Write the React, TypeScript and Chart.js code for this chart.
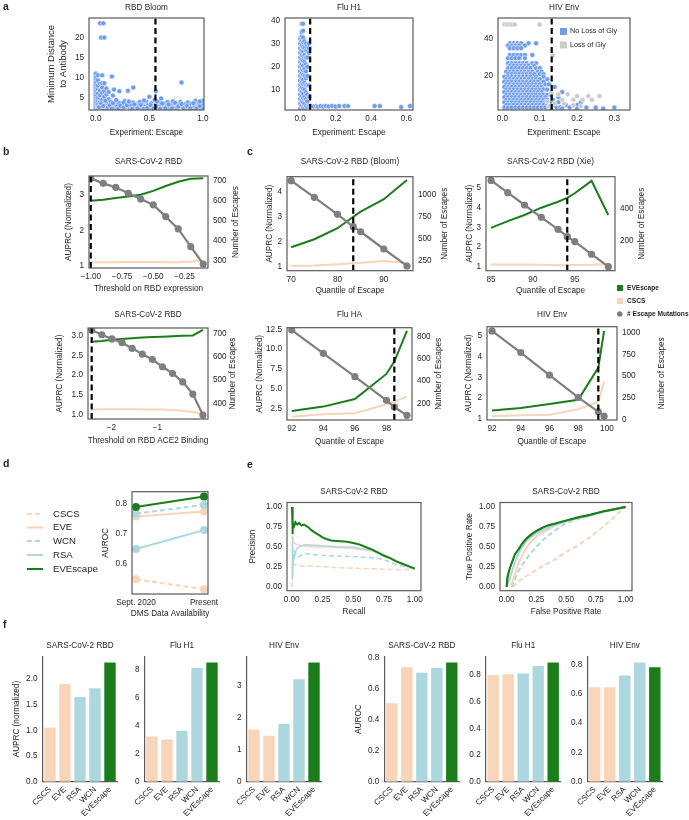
import React, { useEffect, useRef } from "react";
import { Chart, registerables } from "chart.js";

Chart.register(...registerables);

const W = 689;
const H = 820;
const FONT = "'Liberation Sans', Arial, Helvetica, sans-serif";
const TICK = 8.2;
const INK = "#262626";
const FRAME = "#5a5a5a";
const GREEN = "#1a7d1a";
const PEACH = "#f8d4b8";
const LBLUE = "#acd7df";
const GRAY = "#7f7f7f";
const SCAT = "#6f9ceb";
const LGRAY = "#cbcbcb";

// ---------------- data: panel a ----------------
const rbdBloomPts: [number, number][] = [
  [0.0, 2.1], [0.0, 2.6], [0.0, 3.1], [0.0, 3.6], [0.0, 4.1], [0.0, 4.6], [0.0, 5.2], [0.0, 5.8], [0.0, 6.4], [0.0, 7.0], [0.0, 7.6], [0.0, 8.3], [0.0, 9.0], [0.0, 9.7], [0.0, 10.4], [0.0, 11.0],
  [0.02, 2.3], [0.02, 2.9], [0.02, 3.5], [0.02, 4.3], [0.02, 5.0], [0.02, 6.0], [0.02, 7.2], [0.02, 8.0], [0.02, 9.3], [0.02, 10.6],
  [0.04, 2.1], [0.04, 3.0], [0.04, 3.8], [0.04, 4.8], [0.04, 5.6], [0.04, 6.8], [0.04, 8.5], [0.04, 23.6], [0.07, 23.6], [0.05, 20.0], [0.08, 20.0],
  [0.06, 2.5], [0.06, 3.3], [0.06, 4.4], [0.06, 6.2], [0.06, 7.5], [0.06, 8.6], [0.06, 10.6],
  [0.08, 2.2], [0.08, 3.6], [0.08, 5.2], [0.08, 6.6], [0.08, 8.6],
  [0.1, 2.6], [0.1, 3.2], [0.1, 4.0], [0.1, 5.8], [0.1, 7.3],
  [0.12, 2.2], [0.12, 3.4], [0.12, 4.6], [0.12, 6.4],
  [0.14, 2.8], [0.14, 3.9], [0.15, 10.3], [0.16, 5.5], [0.17, 7.0],
  [0.18, 2.4], [0.18, 3.3], [0.2, 4.1], [0.2, 2.9], [0.22, 3.6], [0.22, 6.6], [0.24, 2.3], [0.25, 3.2], [0.27, 4.2], [0.28, 2.7], [0.3, 3.5], [0.3, 6.7],
  [0.32, 2.4], [0.33, 3.0], [0.35, 7.5], [0.35, 3.8], [0.37, 2.6], [0.38, 3.3], [0.4, 2.9], [0.41, 3.9], [0.43, 2.3], [0.44, 3.4], [0.46, 2.8], [0.47, 4.0],
  [0.49, 3.1], [0.5, 5.2], [0.5, 2.5], [0.52, 3.6], [0.53, 2.9], [0.55, 4.4], [0.56, 6.6], [0.56, 3.3], [0.58, 2.6], [0.59, 3.9], [0.61, 4.8], [0.61, 3.0],
  [0.63, 2.3], [0.64, 3.5], [0.66, 2.8], [0.67, 3.9], [0.69, 2.5], [0.7, 3.2], [0.72, 4.1], [0.73, 2.6], [0.75, 3.4], [0.76, 2.3], [0.78, 3.0], [0.79, 3.9],
  [0.8, 8.8], [0.81, 2.6], [0.83, 3.3], [0.84, 2.2], [0.86, 3.8], [0.87, 2.8], [0.89, 3.4], [0.9, 2.3], [0.92, 3.0], [0.93, 4.2], [0.95, 2.6], [0.96, 3.5],
  [0.98, 2.2], [0.99, 3.0], [0.99, 3.9], [1.0, 2.5], [1.0, 3.3], [1.0, 4.2],
  [0.03, 2.6], [0.05, 3.6], [0.07, 2.9], [0.09, 4.2], [0.11, 2.4], [0.13, 3.0], [0.15, 2.2], [0.16, 3.6], [0.19, 4.4], [0.21, 2.3], [0.23, 3.0], [0.26, 2.5],
  [0.26, 3.8], [0.29, 3.1], [0.31, 4.0], [0.34, 2.2], [0.36, 3.3], [0.39, 2.3], [0.42, 3.2], [0.45, 2.2], [0.45, 4.3], [0.48, 2.4], [0.51, 3.1], [0.54, 2.3],
  [0.57, 4.0], [0.6, 2.2], [0.62, 3.5], [0.65, 2.3], [0.68, 3.3], [0.71, 2.3], [0.74, 3.7], [0.77, 2.8], [0.8, 3.4], [0.82, 2.3], [0.85, 2.9], [0.88, 2.3],
  [0.91, 3.6], [0.94, 2.3], [0.97, 2.9], [0.97, 4.0],
];
const rbdBloomThreshold = 0.557;

const fluH1Cols: [number, number[]][] = [
  [0.0, [2, 4, 6, 8, 10, 12, 14, 16, 18, 20, 22, 24, 26, 28, 30, 32]],
  [0.008, [3, 5, 7, 9, 11, 13, 15, 17, 19, 21, 23, 25, 27, 29, 31, 33, 35, 38.5]],
  [0.016, [2.5, 4.5, 6.5, 8.5, 10.5, 12.5, 14.5, 16.5, 18.5, 20.5, 22.5, 24.5, 26.5, 28.5, 30.5, 32.5, 35.5, 38.5]],
  [0.024, [2, 4, 7, 10, 13, 16, 19, 22, 25, 28, 31]],
  [0.032, [3, 6, 9, 12, 15, 18, 21, 24, 27, 30]],
  [0.04, [2.5, 5, 8, 12, 16, 20, 24, 27, 29]],
  [0.05, [3, 7, 12, 26, 28, 30]],
];
const fluH1Tail: [number, number][] = [
  [0.06, 3], [0.075, 2.8], [0.09, 3], [0.1, 2.7], [0.115, 3], [0.13, 2.8], [0.145, 3], [0.16, 2.9], [0.18, 3], [0.2, 2.8],
  [0.22, 3], [0.25, 3], [0.27, 3], [0.42, 3], [0.45, 3], [0.57, 2.6], [0.62, 3],
];
const fluH1Threshold = 0.056;

const hivRows: [number, number[]][] = [
  [37.8, [0.02, 0.03, 0.04, 0.05, 0.07, 0.09]],
  [36.5, [0.015, 0.025, 0.035, 0.045, 0.06]],
  [35.1, [0.02, 0.03, 0.04, 0.05]],
  [31.4, [0.02, 0.03, 0.04, 0.05, 0.06, 0.08]],
  [29.6, [0.015, 0.025, 0.035, 0.045, 0.06]],
  [26.9, [0.015, 0.025, 0.035, 0.045, 0.055, 0.065, 0.08, 0.09]],
  [25.5, [0.02, 0.03, 0.04, 0.05, 0.06, 0.07, 0.085]],
  [24.2, [0.015, 0.025, 0.035, 0.045, 0.055, 0.065, 0.075, 0.09, 0.1]],
  [22.3, [0.01, 0.02, 0.03, 0.04, 0.05, 0.06, 0.07, 0.08, 0.095, 0.105]],
  [21.0, [0.015, 0.025, 0.035, 0.045, 0.055, 0.065, 0.075, 0.085, 0.1, 0.11]],
  [19.6, [0.005, 0.015, 0.025, 0.035, 0.045, 0.055, 0.065, 0.075, 0.09, 0.11]],
  [18.2, [0.01, 0.02, 0.03, 0.04, 0.05, 0.06, 0.07, 0.08, 0.09, 0.1, 0.12]],
  [16.8, [0.005, 0.015, 0.025, 0.035, 0.045, 0.055, 0.065, 0.075, 0.085, 0.095, 0.11]],
  [15.4, [0.01, 0.02, 0.03, 0.04, 0.05, 0.06, 0.07, 0.08, 0.09, 0.1, 0.115, 0.125]],
  [14.0, [0.005, 0.015, 0.025, 0.035, 0.045, 0.055, 0.065, 0.075, 0.085, 0.095, 0.105, 0.14]],
  [12.6, [0.01, 0.02, 0.03, 0.04, 0.05, 0.06, 0.07, 0.08, 0.09, 0.1, 0.11, 0.12]],
  [11.2, [0.005, 0.015, 0.025, 0.035, 0.045, 0.055, 0.065, 0.075, 0.085, 0.095, 0.105, 0.16]],
  [9.8, [0.01, 0.02, 0.03, 0.04, 0.05, 0.06, 0.07, 0.08, 0.09, 0.1, 0.11, 0.12, 0.13]],
  [8.4, [0.005, 0.015, 0.025, 0.035, 0.045, 0.055, 0.065, 0.075, 0.085, 0.095, 0.105, 0.115, 0.15]],
  [7.0, [0.01, 0.02, 0.03, 0.04, 0.05, 0.06, 0.07, 0.08, 0.09, 0.1, 0.11, 0.12, 0.135]],
  [5.6, [0.005, 0.015, 0.025, 0.035, 0.045, 0.055, 0.065, 0.075, 0.085, 0.095, 0.105, 0.115, 0.13, 0.15, 0.21]],
  [4.2, [0.01, 0.02, 0.03, 0.04, 0.05, 0.06, 0.07, 0.08, 0.09, 0.1, 0.11, 0.12, 0.14, 0.17, 0.2]],
  [2.8, [0.005, 0.015, 0.025, 0.035, 0.045, 0.055, 0.065, 0.075, 0.085, 0.095, 0.105, 0.115, 0.125, 0.145, 0.155, 0.18, 0.225, 0.25, 0.3]],
  [2.2, [0.13, 0.16, 0.2, 0.27]],
];
const hivLossPts: [number, number][] = [
  [0.005, 48], [0.012, 48], [0.019, 48], [0.026, 48], [0.033, 48], [0.1, 48], [0.135, 31], [0.13, 11], [0.15, 10], [0.16, 7],
  [0.175, 10], [0.19, 7], [0.2, 9], [0.215, 7], [0.23, 9], [0.24, 7], [0.14, 5], [0.165, 5], [0.19, 4], [0.21, 3.5], [0.12, 6], [0.125, 3.5], [0.26, 9],
];
const hivThreshold = 0.132;

// ---------------- data: panel b ----------------
const exprThresh = [-1.0, -0.9, -0.8, -0.7, -0.6, -0.5, -0.4, -0.3, -0.2, -0.1];
const exprEscapes = [713, 688, 668, 638, 609, 580, 521, 459, 370, 283];
const exprEVEscape = [2.83, 2.86, 2.91, 2.95, 3.0, 3.11, 3.25, 3.37, 3.45, 3.47];
const exprCSCS = [1.1, 1.1, 1.1, 1.11, 1.11, 1.11, 1.1, 1.1, 1.12, 1.15];
const exprCut = -1.0;

const aceThresh = [-2.43, -2.21, -1.99, -1.77, -1.55, -1.33, -1.11, -0.89, -0.67, -0.45, -0.23, -0.01];
const aceEscapes = [714, 694, 676, 660, 636, 611, 588, 557, 528, 492, 440, 350];
const aceEVEscape = [2.85, 2.87, 2.9, 2.92, 2.94, 2.96, 2.97, 2.98, 2.99, 3.0, 3.01, 3.15];
const aceCSCS = [1.12, 1.13, 1.13, 1.13, 1.13, 1.12, 1.12, 1.12, 1.11, 1.09, 1.06, 1.0];
const aceCut = -2.43;

// ---------------- data: panel c ----------------
const bloomQ = [70, 75, 80, 83.4, 85, 90, 95];
const bloomEscapes = [1153, 966, 775, 636, 579, 385, 194];
const bloomEVEscape = [1.78, 2.1, 2.54, 3.0, 3.2, 3.7, 4.47];
const bloomCSCS = [1.03, 1.05, 1.1, 1.14, 1.16, 1.23, 1.15];
const bloomCut = 83.4;

const xieQ = [85, 87, 89, 91, 93, 94.1, 95, 97, 99];
const xieEscapes = [579, 502, 425, 348, 273, 227, 196, 117, 39];
const xieEVEscape = [2.97, 3.31, 3.62, 3.99, 4.29, 4.49, 4.72, 5.35, 3.62];
const xieCSCS = [1.12, 1.12, 1.11, 1.1, 1.07, 1.08, 1.09, 1.1, 1.15];
const xieCut = 94.1;

const fluQ = [92, 94, 96, 98, 98.5, 99.3];
const fluEscapes = [860, 650, 440, 227, 167, 92];
const fluEVEscape = [2.25, 2.8, 3.76, 6.9, 8.44, 12.3];
const fluCSCS = [1.53, 1.83, 1.96, 3.1, 3.42, 4.05];
const fluCut = 98.5;

const hivQ = [92, 94, 96, 98, 99.4, 99.8];
const hivEscapes = [1020, 770, 510, 252, 86, 36];
const hivEVEscape = [1.38, 1.5, 1.7, 1.9, 3.47, 5.25];
const hivCSCS = [1.1, 1.15, 1.18, 1.45, 1.8, 2.8];
const hivCut = 99.4;

// ---------------- data: panel d ----------------
const dmsLabels = ["Sept. 2020", "Present"];
const dmsCSCS = [0.549, 0.516];
const dmsEVE = [0.758, 0.775];
const dmsWCN = [0.768, 0.797];
const dmsRSA = [0.65, 0.713];
const dmsEVEscape = [0.79, 0.825];

// ---------------- data: panel e ----------------
const prEVEscape: [number, number][] = [
  [0.003, 1.0], [0.006, 0.66], [0.01, 0.8], [0.02, 0.76], [0.03, 0.81], [0.045, 0.78], [0.06, 0.8], [0.08, 0.77], [0.1, 0.78], [0.12, 0.76],
  [0.14, 0.74], [0.16, 0.71], [0.19, 0.68], [0.22, 0.65], [0.25, 0.62], [0.28, 0.6], [0.32, 0.58], [0.36, 0.575], [0.4, 0.57], [0.45, 0.565],
  [0.5, 0.55], [0.55, 0.53], [0.6, 0.5], [0.65, 0.47], [0.7, 0.43], [0.75, 0.39], [0.8, 0.36], [0.85, 0.32], [0.9, 0.29], [0.95, 0.26], [1.0, 0.23],
];
const prEVE: [number, number][] = [
  [0.003, 0.64], [0.01, 0.57], [0.02, 0.55], [0.04, 0.53], [0.07, 0.52], [0.1, 0.51], [0.15, 0.51], [0.2, 0.5], [0.3, 0.5], [0.4, 0.49],
  [0.5, 0.48], [0.55, 0.47], [0.6, 0.46], [0.65, 0.45], [0.7, 0.43], [0.75, 0.39], [0.8, 0.35], [0.85, 0.31], [0.9, 0.28], [0.95, 0.25], [1.0, 0.23],
];
const prRSA: [number, number][] = [
  [0.003, 0.1], [0.006, 0.62], [0.012, 0.3], [0.025, 0.4], [0.04, 0.47], [0.06, 0.5], [0.09, 0.52], [0.12, 0.53], [0.16, 0.52], [0.2, 0.52],
  [0.3, 0.51], [0.4, 0.5], [0.5, 0.5], [0.55, 0.48], [0.6, 0.47], [0.65, 0.46], [0.7, 0.44], [0.75, 0.4], [0.8, 0.36], [0.85, 0.32], [0.9, 0.28], [0.95, 0.25], [1.0, 0.23],
];
const prWCN: [number, number][] = [
  [0.003, 0.25], [0.01, 0.2], [0.02, 0.45], [0.035, 0.4], [0.05, 0.37], [0.07, 0.39], [0.1, 0.42], [0.15, 0.41], [0.2, 0.4], [0.3, 0.39],
  [0.4, 0.385], [0.5, 0.38], [0.6, 0.37], [0.7, 0.36], [0.75, 0.34], [0.8, 0.31], [0.85, 0.28], [0.9, 0.26], [0.95, 0.24], [1.0, 0.23],
];
const prCSCS: [number, number][] = [
  [0.003, 0.0], [0.008, 0.3], [0.02, 0.28], [0.05, 0.27], [0.1, 0.26], [0.2, 0.26], [0.3, 0.25], [0.4, 0.24], [0.5, 0.235], [0.6, 0.23],
  [0.7, 0.225], [0.8, 0.22], [0.9, 0.22], [1.0, 0.22],
];
const rocEVEscape: [number, number][] = [
  [0, 0], [0.005, 0.1], [0.012, 0.16], [0.03, 0.25], [0.05, 0.33], [0.07, 0.41], [0.1, 0.47], [0.13, 0.54], [0.17, 0.61], [0.21, 0.66],
  [0.25, 0.7], [0.3, 0.74], [0.35, 0.77], [0.4, 0.79], [0.5, 0.83], [0.6, 0.87], [0.7, 0.9], [0.8, 0.94], [0.9, 0.97], [1, 1],
];
const rocRSA: [number, number][] = [
  [0, 0], [0.02, 0.08], [0.05, 0.22], [0.08, 0.35], [0.12, 0.48], [0.16, 0.56], [0.2, 0.62], [0.25, 0.67], [0.3, 0.71], [0.4, 0.77],
  [0.5, 0.82], [0.6, 0.86], [0.7, 0.9], [0.8, 0.94], [0.9, 0.97], [1, 1],
];
const rocEVE: [number, number][] = [
  [0.03, 0.0], [0.06, 0.12], [0.1, 0.3], [0.15, 0.45], [0.2, 0.56], [0.25, 0.63], [0.3, 0.68], [0.4, 0.76], [0.5, 0.82], [0.6, 0.86],
  [0.7, 0.9], [0.8, 0.94], [0.9, 0.97], [1, 1],
];
const rocWCN: [number, number][] = [
  [0.04, 0.0], [0.07, 0.1], [0.1, 0.2], [0.15, 0.32], [0.2, 0.42], [0.25, 0.5], [0.3, 0.58], [0.35, 0.64], [0.4, 0.7], [0.45, 0.75],
  [0.5, 0.8], [0.6, 0.85], [0.7, 0.89], [0.8, 0.93], [0.9, 0.97], [1, 1],
];
const rocCSCS: [number, number][] = [
  [0.05, 0.0], [0.1, 0.07], [0.2, 0.17], [0.3, 0.26], [0.4, 0.34], [0.5, 0.44], [0.6, 0.52], [0.7, 0.62], [0.75, 0.68], [0.8, 0.74], [0.9, 0.87], [1, 1],
];

// ---------------- data: panel f ----------------
const fModels = ["CSCS", "EVE", "RSA", "WCN", "EVEscape"];
const fColors = [PEACH, PEACH, LBLUE, LBLUE, GREEN];
const fAuprcSars = [1.05, 1.9, 1.65, 1.82, 2.32];
const fAuprcFlu = [3.25, 3.03, 3.65, 8.15, 8.55];
const fAuprcHiv = [1.63, 1.43, 1.8, 3.2, 3.72];
const fAurocSars = [0.505, 0.737, 0.702, 0.732, 0.768];
const fAurocFlu = [0.8, 0.805, 0.81, 0.866, 0.893];
const fAurocHiv = [0.646, 0.646, 0.726, 0.815, 0.782];

// ---------------- helpers ----------------
type Box = { L: number; T: number; R: number; B: number };
type TextItem = { text: string; x: number; y: number; size?: number; bold?: boolean; align?: CanvasTextAlign; rot?: boolean };
type LegItem = { label: string; kind: "square" | "circle" | "line"; color: string; dash?: number[]; x: number; y: number; tx: number; size: number; sw?: number; bold?: boolean };

const AX = 30;

function fmtNum(v: number, dec: number) {
  return v.toFixed(dec).replace("-", "\u2212");
}

function fixSize(size: number) {
  return (s: any) => {
    if (s.isHorizontal()) s.height = size;
    else s.width = size;
    s.paddingLeft = 0;
    s.paddingRight = 0;
    s.paddingTop = 0;
    s.paddingBottom = 0;
  };
}

function linAxis(pos: string, min: number, max: number, ticks: number[], dec: number, labels?: string[], border = false) {
  return {
    type: "linear",
    position: pos,
    min,
    max,
    bounds: "data",
    grid: { display: false, drawTicks: false },
    border: { display: border, color: FRAME, width: 1.2 },
    ticks: {
      font: { family: FONT, size: TICK },
      color: INK,
      padding: pos === "bottom" ? 4 : 5,
      autoSkip: false,
      maxRotation: 0,
      minRotation: 0,
      callback: (v: any, i: number) => (labels ? labels[i] : fmtNum(Number(v), dec)),
    },
    afterBuildTicks: (s: any) => {
      s.ticks = ticks.map((v) => ({ value: v }));
    },
    afterFit: fixSize(AX),
  };
}

function opts(box: Box, hasRight: boolean, scales: any, hb = AX) {
  return {
    responsive: false,
    maintainAspectRatio: false,
    animation: false,
    devicePixelRatio: 1,
    events: [],
    layout: { padding: { left: box.L - AX, top: box.T, right: W - box.R - (hasRight ? AX : 0), bottom: H - box.B - hb } },
    plugins: { legend: { display: false }, tooltip: { enabled: false }, title: { display: false } },
    scales,
  };
}

function overlay(texts: TextItem[], legs: LegItem[] = [], frame = true) {
  return {
    id: "overlay",
    afterDatasetsDraw(chart: any) {
      if (!frame) return;
      const { ctx, chartArea: a } = chart;
      ctx.save();
      ctx.strokeStyle = FRAME;
      ctx.lineWidth = 1.2;
      ctx.strokeRect(a.left, a.top, a.right - a.left, a.bottom - a.top);
      ctx.restore();
    },
    afterDraw(chart: any) {
      const ctx = chart.ctx;
      for (const t of texts) {
        ctx.save();
        ctx.font = `${t.bold ? "bold " : ""}${t.size ?? TICK}px ${FONT}`;
        ctx.fillStyle = INK;
        ctx.textAlign = t.align ?? "center";
        ctx.textBaseline = "middle";
        ctx.translate(t.x, t.y);
        if (t.rot) ctx.rotate(-Math.PI / 2);
        ctx.fillText(t.text, 0, 0);
        ctx.restore();
      }
      for (const l of legs) {
        ctx.save();
        ctx.fillStyle = l.color;
        ctx.strokeStyle = l.color;
        const s = l.sw ?? 6;
        if (l.kind === "square") ctx.fillRect(l.x, l.y - s / 2, s, s);
        else if (l.kind === "circle") {
          ctx.beginPath();
          ctx.arc(l.x + s / 2, l.y, s / 2, 0, Math.PI * 2);
          ctx.fill();
        } else {
          ctx.lineWidth = 2;
          ctx.setLineDash(l.dash ?? []);
          ctx.beginPath();
          ctx.moveTo(l.x, l.y);
          ctx.lineTo(l.x + s, l.y);
          ctx.stroke();
        }
        ctx.setLineDash([]);
        ctx.font = `${l.bold ? "bold " : ""}${l.size}px ${FONT}`;
        ctx.fillStyle = INK;
        ctx.textAlign = "left";
        ctx.textBaseline = "middle";
        ctx.fillText(l.label, l.tx, l.y);
        ctx.restore();
      }
    },
  };
}

const pts = (a: [number, number][]) => a.map(([x, y]) => ({ x, y }));
const zipXY = (xs: number[], ys: number[]) => xs.map((x, i) => ({ x, y: ys[i] }));

function vline(x: number, y0: number, y1: number, axis = "y") {
  return { data: [{ x, y: y0 }, { x, y: y1 }], showLine: true, borderColor: "#000", borderWidth: 2.2, borderDash: [6, 3.5], pointRadius: 0, yAxisID: axis, order: 0 };
}

// ---------------- panel a ----------------
function scatterCfg(p: { box: Box; title: string; xr: [number, number]; yr: [number, number]; xt: number[]; yt: number[]; thr: number; sets: any[]; texts?: TextItem[]; legs?: LegItem[] }) {
  const { box } = p;
  const cx = (box.L + box.R) / 2;
  const texts: TextItem[] = [
    { text: p.title, x: cx, y: 7.5 },
    { text: "Experiment: Escape", x: cx, y: 133 },
    ...(p.texts || []),
  ];
  return {
    type: "scatter",
    data: { datasets: [vline(p.thr, p.yr[0], p.yr[1]), ...p.sets] },
    options: opts(box, false, {
      x: linAxis("bottom", p.xr[0], p.xr[1], p.xt, 1),
      y: linAxis("left", p.yr[0], p.yr[1], p.yt, 0),
    }),
    plugins: [overlay(texts, p.legs || [])],
  };
}

const scatStyle = { pointRadius: 2.5, pointBackgroundColor: SCAT, pointBorderColor: "#ffffff", pointBorderWidth: 0.5, showLine: false };

const makeA1 = () =>
  scatterCfg({
    box: { L: 89, T: 18, R: 204, B: 110 },
    title: "RBD Bloom",
    xr: [-0.063, 1.01],
    yr: [1.9, 24.9],
    xt: [0, 0.5, 1.0],
    yt: [5, 10, 15, 20],
    thr: rbdBloomThreshold,
    sets: [{ data: pts(rbdBloomPts), ...scatStyle, order: 2 }],
    texts: [
      { text: "Minimum Distance", x: 51.5, y: 64, size: 9.5, rot: true },
      { text: "to Antibody", x: 63, y: 64, size: 9.5, rot: true },
      { text: "a", x: 3, y: 7, size: 10.5, bold: true, align: "left" },
      { text: "b", x: 3, y: 152, size: 10.5, bold: true, align: "left" },
      { text: "c", x: 247, y: 152, size: 10.5, bold: true, align: "left" },
      { text: "d", x: 3, y: 464, size: 10.5, bold: true, align: "left" },
      { text: "e", x: 247, y: 465, size: 10.5, bold: true, align: "left" },
      { text: "f", x: 3, y: 625, size: 10.5, bold: true, align: "left" },
    ],
  });

const makeA2 = () =>
  scatterCfg({
    box: { L: 285, T: 18, R: 413, B: 110 },
    title: "Flu H1",
    xr: [-0.086, 0.637],
    yr: [1.3, 41],
    xt: [0, 0.2, 0.4, 0.6],
    yt: [10, 20, 30, 40],
    thr: fluH1Threshold,
    sets: [
      {
        data: [...fluH1Cols.flatMap(([x, ys]) => ys.map((y) => ({ x, y }))), ...pts(fluH1Tail)],
        ...scatStyle,
        order: 2,
      },
    ],
  });

const makeA3 = () =>
  scatterCfg({
    box: { L: 498, T: 18, R: 630, B: 110 },
    title: "HIV Env",
    xr: [-0.012, 0.342],
    yr: [1.45, 51.5],
    xt: [0, 0.1, 0.2, 0.3],
    yt: [20, 40],
    thr: hivThreshold,
    sets: [
      { data: hivRows.flatMap(([y, xs]) => xs.map((x) => ({ x, y }))), ...scatStyle, order: 2 },
      { data: pts(hivLossPts), ...scatStyle, pointBackgroundColor: LGRAY, order: 1 },
    ],
    legs: [
      { label: "No Loss of Gly", kind: "square", color: SCAT, x: 560, y: 31.5, tx: 570, size: 7.2, sw: 7 },
      { label: "Loss of Gly", kind: "square", color: LGRAY, x: 560, y: 45, tx: 570, size: 7.2, sw: 7 },
    ],
  });

// ---------------- panels b & c ----------------
function dualCfg(p: {
  box: Box; x: number[]; green: number[]; cscs: number[]; esc: number[]; thr: number;
  xr: [number, number]; xt: number[]; xdec: number;
  yl: [number, number]; ylt: number[]; yldec: number;
  yr: [number, number]; yrt: number[];
  title: string; xlabel: string; titleY: number; yLabX: number; y2LabX: number; xLabY: number; legs?: LegItem[];
}) {
  const { box } = p;
  const cx = (box.L + box.R) / 2;
  const cy = (box.T + box.B) / 2;
  const texts: TextItem[] = [
    { text: p.title, x: cx, y: p.titleY },
    { text: p.xlabel, x: cx, y: p.xLabY },
    { text: "AUPRC (Normalized)", x: p.yLabX, y: cy, rot: true },
    { text: "Number of Escapes", x: p.y2LabX, y: cy, rot: true },
  ];
  return {
    type: "scatter",
    data: {
      datasets: [
        vline(p.thr, p.yl[0], p.yl[1]),
        { data: zipXY(p.x, p.esc), showLine: true, borderColor: GRAY, borderWidth: 2.2, pointRadius: 3.6, pointBackgroundColor: GRAY, pointBorderWidth: 0, yAxisID: "y2", order: 1 },
        { data: zipXY(p.x, p.green), showLine: true, borderColor: GREEN, borderWidth: 2, pointRadius: 0, yAxisID: "y", order: 2 },
        { data: zipXY(p.x, p.cscs), showLine: true, borderColor: PEACH, borderWidth: 2, pointRadius: 0, yAxisID: "y", order: 3 },
      ],
    },
    options: opts(box, true, {
      x: linAxis("bottom", p.xr[0], p.xr[1], p.xt, p.xdec),
      y: linAxis("left", p.yl[0], p.yl[1], p.ylt, p.yldec),
      y2: linAxis("right", p.yr[0], p.yr[1], p.yrt, 0),
    }),
    plugins: [overlay(texts, p.legs || [])],
  };
}

const makeB1 = () =>
  dualCfg({
    box: { L: 89, T: 176, R: 208, B: 268 }, x: exprThresh, green: exprEVEscape, cscs: exprCSCS, esc: exprEscapes, thr: exprCut,
    xr: [-1.014, -0.062], xt: [-1, -0.75, -0.5, -0.25], xdec: 2,
    yl: [0.94, 3.53], ylt: [1, 2, 3], yldec: 0, yr: [263, 725], yrt: [300, 400, 500, 600, 700],
    title: "SARS-CoV-2 RBD", xlabel: "Threshold on RBD expression", titleY: 162, yLabX: 68.3, y2LabX: 236, xLabY: 289,
  });

const makeB2 = () =>
  dualCfg({
    box: { L: 88, T: 328, R: 208, B: 419 }, x: aceThresh, green: aceEVEscape, cscs: aceCSCS, esc: aceEscapes, thr: aceCut,
    xr: [-2.51, 0.1], xt: [-2, -1], xdec: 0,
    yl: [0.88, 3.2], ylt: [1, 1.5, 2, 2.5, 3], yldec: 1, yr: [333, 723], yrt: [400, 500, 600, 700],
    title: "SARS-CoV-2 RBD", xlabel: "Threshold on RBD ACE2 Binding", titleY: 315, yLabX: 59.3, y2LabX: 233, xLabY: 441,
  });

const makeC1 = () =>
  dualCfg({
    box: { L: 287, T: 176.7, R: 413, B: 270.7 }, x: bloomQ, green: bloomEVEscape, cscs: bloomCSCS, esc: bloomEscapes, thr: bloomCut,
    xr: [69.1, 96.3], xt: [70, 80, 90], xdec: 0,
    yl: [0.84, 4.6], ylt: [1, 2, 3, 4], yldec: 0, yr: [141, 1198], yrt: [250, 500, 750, 1000],
    title: "SARS-CoV-2 RBD (Bloom)", xlabel: "Quantile of Escape", titleY: 162, yLabX: 269.3, y2LabX: 445, xLabY: 291,
  });

const makeC2 = () =>
  dualCfg({
    box: { L: 486, T: 176.7, R: 615, B: 270.7 }, x: xieQ, green: xieEVEscape, cscs: xieCSCS, esc: xieEscapes, thr: xieCut,
    xr: [84.4, 99.8], xt: [85, 90, 95], xdec: 0,
    yl: [0.8, 5.56], ylt: [1, 2, 3, 4, 5], yldec: 0, yr: [14, 602], yrt: [200, 400],
    title: "SARS-CoV-2 RBD (Xie)", xlabel: "Quantile of Escape", titleY: 162, yLabX: 469.3, y2LabX: 641.7, xLabY: 291,
    legs: [
      { label: "EVEscape", kind: "square", color: GREEN, x: 617, y: 288, tx: 627, size: 6.6, sw: 6, bold: true },
      { label: "CSCS", kind: "square", color: PEACH, x: 617, y: 301, tx: 627, size: 6.6, sw: 6, bold: true },
      { label: "# Escape Mutations", kind: "circle", color: GRAY, x: 617, y: 314, tx: 627, size: 6.6, sw: 5.5, bold: true },
    ],
  });

const makeC3 = () =>
  dualCfg({
    box: { L: 287, T: 327.7, R: 412, B: 420 }, x: fluQ, green: fluEVEscape, cscs: fluCSCS, esc: fluEscapes, thr: fluCut,
    xr: [91.7, 99.62], xt: [92, 94, 96, 98], xdec: 0,
    yl: [1.12, 12.7], ylt: [2.5, 5, 7.5, 10, 12.5], yldec: 1, yr: [50, 881], yrt: [200, 400, 600, 800],
    title: "Flu HA", xlabel: "Quantile of Escape", titleY: 315, yLabX: 259.3, y2LabX: 438.3, xLabY: 441.7,
  });

const makeC4 = () =>
  dualCfg({
    box: { L: 487, T: 326.7, R: 617, B: 420 }, x: hivQ, green: hivEVEscape, cscs: hivCSCS, esc: hivEscapes, thr: hivCut,
    xr: [91.65, 100.7], xt: [92, 94, 96, 98, 100], xdec: 0,
    yl: [0.92, 5.46], ylt: [1, 2, 3, 4, 5], yldec: 0, yr: [-8, 1069], yrt: [0, 250, 500, 750, 1000],
    title: "HIV Env", xlabel: "Quantile of Escape", titleY: 315, yLabX: 468.3, y2LabX: 661.7, xLabY: 441.7,
  });

// ---------------- panel d ----------------
const makeD = () => {
  const box: Box = { L: 132, T: 491.7, R: 208, B: 594 };
  const cx = (box.L + box.R) / 2;
  const cy = (box.T + box.B) / 2;
  const idx = (ys: number[]) => ys.map((y, i) => ({ x: i, y }));
  const line = (ys: number[], color: string, dash: number[], order: number) => ({
    data: idx(ys), showLine: true, borderColor: color, borderWidth: 2, borderDash: dash,
    pointRadius: 4, pointBackgroundColor: color, pointBorderWidth: 0, order,
  });
  return {
    type: "scatter",
    data: {
      datasets: [
        line(dmsEVEscape, GREEN, [], 0),
        line(dmsWCN, LBLUE, [5, 3], 1),
        line(dmsEVE, PEACH, [], 2),
        line(dmsRSA, LBLUE, [], 3),
        line(dmsCSCS, PEACH, [5, 3], 4),
      ],
    },
    options: opts(box, false, {
      x: { ...linAxis("bottom", -0.0588, 1.0588, [0, 1], 0, dmsLabels) },
      y: linAxis("left", 0.5, 0.841, [0.6, 0.7, 0.8], 1),
    }),
    plugins: [
      overlay(
        [
          { text: "DMS Data Availability", x: cx, y: 614 },
          { text: "AUROC", x: 106, y: cy, rot: true },
        ],
        [
          { label: "CSCS", kind: "line", color: PEACH, dash: [5, 3], x: 27, y: 514, tx: 53, size: 9.6, sw: 16 },
          { label: "EVE", kind: "line", color: PEACH, x: 27, y: 527.5, tx: 53, size: 9.6, sw: 16 },
          { label: "WCN", kind: "line", color: LBLUE, dash: [5, 3], x: 27, y: 541, tx: 53, size: 9.6, sw: 16 },
          { label: "RSA", kind: "line", color: LBLUE, x: 27, y: 555, tx: 53, size: 9.6, sw: 16 },
          { label: "EVEscape", kind: "line", color: GREEN, x: 27, y: 569, tx: 53, size: 9.6, sw: 16 },
        ]
      ),
    ],
  };
};

// ---------------- panel e ----------------
function curveCfg(box: Box, xr: [number, number], sets: any[], xlabel: string, ylabel: string, yLabX: number) {
  const cx = (box.L + box.R) / 2;
  const cy = (box.T + box.B) / 2;
  return {
    type: "scatter",
    data: { datasets: sets },
    options: opts(box, false, {
      x: linAxis("bottom", xr[0], xr[1], [0, 0.25, 0.5, 0.75, 1], 2),
      y: linAxis("left", -0.046, 1.055, [0, 0.25, 0.5, 0.75, 1], 2),
    }),
    plugins: [
      overlay([
        { text: "SARS-CoV-2 RBD", x: cx, y: 491.7 },
        { text: xlabel, x: cx, y: 611.7 },
        { text: ylabel, x: yLabX, y: cy, rot: true },
      ]),
    ],
  };
}
const curve = (a: [number, number][], color: string, width: number, dash: number[], order: number) => ({
  data: pts(a), showLine: true, borderColor: color, borderWidth: width, borderDash: dash, pointRadius: 0, order,
});

const makeE1 = () =>
  curveCfg(
    { L: 287, T: 502.5, R: 421, B: 590.7 }, [-0.038, 1.05],
    [
      curve(prEVEscape, GREEN, 2, [], 0),
      curve(prRSA, LBLUE, 1.5, [], 1),
      curve(prEVE, PEACH, 1.5, [], 2),
      curve(prWCN, LBLUE, 1.5, [5, 3], 3),
      curve(prCSCS, PEACH, 1.5, [5, 3], 4),
    ],
    "Recall", "Precision", 253
  );

const makeE2 = () =>
  curveCfg(
    { L: 500, T: 502.5, R: 632, B: 590.7 }, [-0.056, 1.053],
    [
      curve(rocEVEscape, GREEN, 2.2, [], 0),
      curve(rocRSA, LBLUE, 2, [], 1),
      curve(rocEVE, PEACH, 2, [], 2),
      curve(rocWCN, LBLUE, 2, [5, 3], 3),
      curve(rocCSCS, PEACH, 2, [5, 3], 4),
    ],
    "False Positive Rate", "True Positive Rate", 470
  );

// ---------------- panel f ----------------
function barCfg(L: number, title: string, values: number[], ticks: number[], dec: number, ylabel?: string) {
  const box: Box = { L, T: 656.5, R: L + 75, B: 781.7 };
  const cx = (box.L + box.R) / 2;
  const ymax = Math.max(...values) * 1.05;
  const texts: TextItem[] = [{ text: title, x: cx, y: 645.7 }];
  if (ylabel) texts.push({ text: ylabel, x: L - 25.5, y: (box.T + box.B) / 2, rot: true });
  return {
    type: "bar",
    data: { labels: fModels, datasets: [{ data: values, backgroundColor: fColors, borderWidth: 0, barPercentage: 0.76, categoryPercentage: 1 }] },
    options: opts(
      box,
      false,
      {
        x: {
          type: "category",
          position: "bottom",
          offset: true,
          grid: { display: false, drawTicks: false },
          border: { display: true, color: FRAME, width: 1.2 },
          ticks: { font: { family: FONT, size: TICK }, color: INK, padding: 3, autoSkip: false, maxRotation: 45, minRotation: 45 },
          afterFit: fixSize(40),
        },
        y: linAxis("left", 0, ymax, ticks, dec, undefined, true),
      },
      40
    ),
    plugins: [overlay(texts, [], false)],
  };
}

const makeF1 = () => barCfg(42.5, "SARS-CoV-2 RBD", fAuprcSars, [0, 0.5, 1, 1.5, 2], 1, "AUPRC (normalized)");
const makeF2 = () => barCfg(144.5, "Flu H1", fAuprcFlu, [0, 2, 4, 6, 8], 0);
const makeF3 = () => barCfg(246.5, "HIV Env", fAuprcHiv, [0, 1, 2, 3], 0);
const makeF4 = () => barCfg(384.3, "SARS-CoV-2 RBD", fAurocSars, [0, 0.2, 0.4, 0.6, 0.8], 1, "AUROC");
const makeF5 = () => barCfg(485.7, "Flu H1", fAurocFlu, [0, 0.2, 0.4, 0.6, 0.8], 1);
const makeF6 = () => barCfg(587.3, "HIV Env", fAurocHiv, [0, 0.2, 0.4, 0.6, 0.8], 1);

const MAKERS = [makeA1, makeA2, makeA3, makeB1, makeB2, makeC1, makeC2, makeC3, makeC4, makeD, makeE1, makeE2, makeF1, makeF2, makeF3, makeF4, makeF5, makeF6];

function ChartCanvas({ make }: { make: () => any }) {
  const ref = useRef<HTMLCanvasElement | null>(null);
  useEffect(() => {
    const chart = new Chart(ref.current as HTMLCanvasElement, make());
    return () => chart.destroy();
  }, [make]);
  return <canvas ref={ref} width={W} height={H} style={{ position: "absolute", left: 0, top: 0, width: W, height: H }} />;
}

export default function App() {
  return (
    <div style={{ position: "absolute", left: 0, top: 0, width: W, height: H, background: "#ffffff", overflow: "hidden" }}>
      {MAKERS.map((m, i) => (
        <ChartCanvas key={i} make={m} />
      ))}
    </div>
  );
}
